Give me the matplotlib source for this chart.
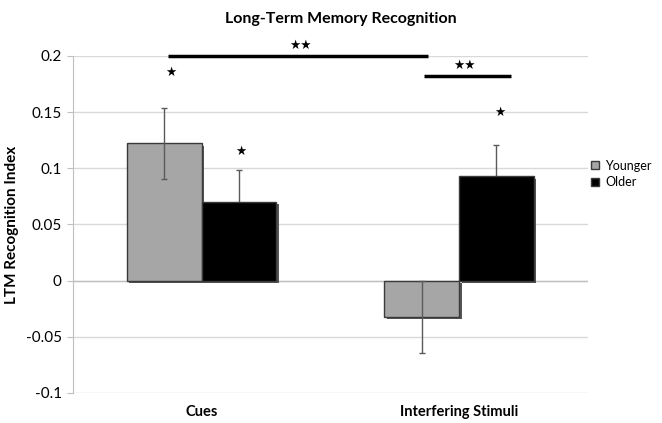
import matplotlib
matplotlib.use("Agg")
import matplotlib.pyplot as plt
import matplotlib.patches as mpatches
import matplotlib.patheffects as pe
import numpy as np

# ── Data ───────────────────────────────────────────────────────────────────────
categories = ["Cues", "Interfering Stimuli"]
groups = ["Younger", "Older"]
younger = [0.122, -0.032]
older = [0.070, 0.093]
younger_err = [0.032, 0.032]
older_err = [0.028, 0.028]
yticks = [-0.1, -0.05, 0, 0.05, 0.1, 0.15, 0.2]
ytick_labels = ["-0.1", "-0.05", "0", "0.05", "0.1", "0.15", "0.2"]

YOUNG_COLOR = "#a6a6a6"
OLD_COLOR = "#000000"
GRID_COLOR = "#d9d9d9"
EDGE_COLOR = "#3a3a3a"
FONT = ["Lato", "DejaVu Sans"]
STAR = dict(ha="center", va="center", fontsize=9, family="DejaVu Sans")

plt.rcParams["font.family"] = FONT

fig = plt.figure(figsize=(6.62, 4.23), dpi=100)
ax = fig.add_axes([0.110, 0.071, 0.778, 0.797])

x = np.arange(len(categories))
width = 0.29
shadow = [pe.SimplePatchShadow(offset=(1.8, -1.8), shadow_rgbFace="#444444",
                               alpha=0.9), pe.Normal()]

b1 = ax.bar(x - width / 2, younger, width, color=YOUNG_COLOR,
            edgecolor=EDGE_COLOR, linewidth=1.0, zorder=3)
b2 = ax.bar(x + width / 2, older, width, color=OLD_COLOR,
            edgecolor=EDGE_COLOR, linewidth=1.0, zorder=3)
for bar in list(b1) + list(b2):
    bar.set_path_effects(shadow)

# error bars: younger drawn over its bar, older tucked behind
ax.errorbar(x - width / 2, younger, yerr=younger_err, fmt="none",
            ecolor="#5a5a5a", elinewidth=1.0, capsize=2, capthick=1.0, zorder=4)
ax.errorbar(x + width / 2, older, yerr=older_err, fmt="none",
            ecolor="#5a5a5a", elinewidth=1.0, capsize=2, capthick=1.0, zorder=2)

# significance: Cues younger vs Interfering younger, and within Interfering
ax.plot([x[0] - width / 2 + 0.015, x[1] - width / 2 + 0.025], [0.2, 0.2],
        color="black", lw=2.5, zorder=5, clip_on=False, solid_capstyle="butt")
ax.text(0.382, 0.2095, "★★", **STAR)
ax.plot([x[1] - width / 2 + 0.008, x[1] + width / 2 + 0.056], [0.1817, 0.1817],
        color="black", lw=2.5, zorder=5, solid_capstyle="butt")
ax.text(x[1] + 0.022, 0.1912, "★★", **STAR)

# single-group markers
ax.text(x[0] - width / 2 + 0.026, 0.185, "★", **STAR)
ax.text(x[0] + width / 2 + 0.007, 0.115, "★", **STAR)
ax.text(x[1] + width / 2 + 0.013, 0.150, "★", **STAR)

ax.set_xlim(-0.5, 1.5)
ax.set_ylim(-0.1, 0.2)
ax.set_yticks(yticks)
ax.set_yticklabels(ytick_labels, fontsize=11)
ax.set_xticks(x)
ax.set_xticklabels(categories, fontsize=10.5, fontweight="bold")
ax.tick_params(axis="x", length=0, pad=9)
ax.tick_params(axis="y", length=4, color="#bfbfbf", width=0.8, pad=4)
ax.yaxis.grid(True, color=GRID_COLOR, linewidth=1.0, zorder=0)
ax.set_axisbelow(True)
for side in ["top", "right", "bottom"]:
    ax.spines[side].set_visible(False)
ax.spines["left"].set_color("#bfbfbf")
ax.axhline(0, color="#bfbfbf", lw=1.0, zorder=1)

ax.set_ylabel("LTM Recognition Index", fontsize=11, fontweight="bold",
              labelpad=5)
fig.text(0.515, 0.955, "Long-Term Memory Recognition", ha="center",
         va="center", fontsize=11.5, fontweight="bold")

handles = [mpatches.Patch(facecolor=YOUNG_COLOR, edgecolor=EDGE_COLOR, lw=1.0),
           mpatches.Patch(facecolor=OLD_COLOR, edgecolor=EDGE_COLOR, lw=1.0)]
ax.legend(handles, groups, loc="center left", bbox_to_anchor=(0.985, 0.65),
          frameon=False, fontsize=9, handlelength=0.6, handleheight=0.6,
          handletextpad=0.5, labelspacing=0.35)

fig.savefig("out.png", dpi=100)
